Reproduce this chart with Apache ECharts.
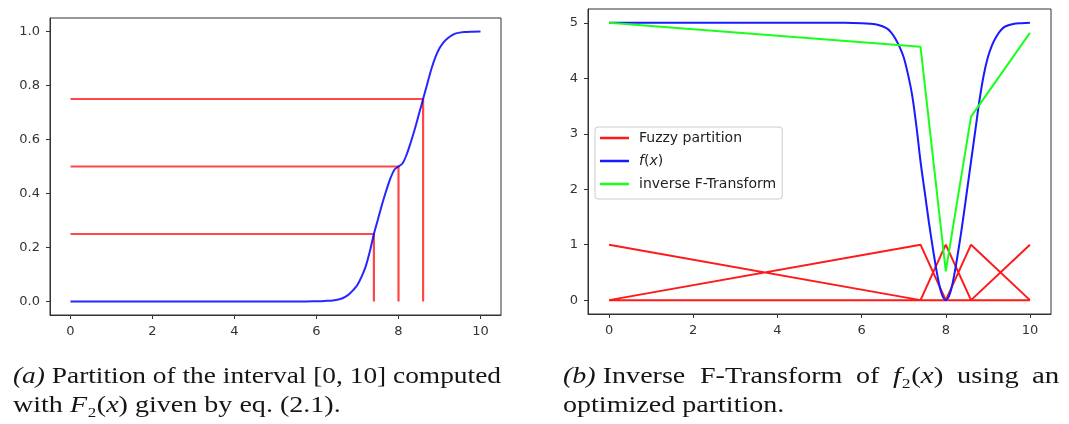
<!DOCTYPE html>
<html>
<head>
<meta charset="utf-8">
<script src="https://cdn.jsdelivr.net/npm/echarts@6/dist/echarts.min.js"></script>
<style>
  html, body { margin: 0; padding: 0; background: #fff; }
  #chart { width: 1069px; height: 424px; }
</style>
</head>
<body>
<div id="chart"></div>
<script>
// Partition nodes of [0, 10] and the F2 levels reached at the inner nodes
const nodes = [0, 7.4, 8.0, 8.6, 10];
const innerLevels = [0.25, 0.5, 0.75];

// F2(x): cumulative curve used to place the nodes
const xF2 = [0, 2, 4, 5, 5.6, 6.0, 6.2, 6.4, 6.6, 6.7, 6.8, 6.9, 7.0, 7.1, 7.2, 7.3, 7.4, 7.5, 7.6, 7.7, 7.8, 7.9, 8.0,
             8.1, 8.2, 8.3, 8.4, 8.5, 8.6, 8.7, 8.8, 8.9, 9.0, 9.1, 9.2, 9.3, 9.4, 9.6, 9.8, 10];
const yF2 = [0, 0, 0, 0, 0, 0.001, 0.002, 0.004, 0.01, 0.017, 0.028, 0.043, 0.062, 0.092, 0.13, 0.185, 0.25, 0.305, 0.36, 0.41, 0.455, 0.488, 0.5,
             0.512, 0.545, 0.59, 0.64, 0.695, 0.75, 0.805, 0.86, 0.905, 0.938, 0.96, 0.975, 0.986, 0.993, 0.998, 0.9995, 1.0];

// f2(x): signal with a dip at x = 8
const xf = [0, 2, 4, 5, 5.6, 6.0, 6.2, 6.4, 6.6, 6.7, 6.8, 6.9, 7.0, 7.1, 7.2, 7.3, 7.4, 7.5, 7.6, 7.7, 7.8, 7.9, 8.0,
            8.1, 8.2, 8.3, 8.4, 8.5, 8.6, 8.7, 8.8, 8.9, 9.0, 9.1, 9.2, 9.3, 9.4, 9.6, 9.8, 10];
const yf = [5, 5, 5, 5, 5, 4.995, 4.985, 4.96, 4.9, 4.83, 4.72, 4.57, 4.38, 4.08, 3.7, 3.15, 2.5, 1.95, 1.4, 0.9, 0.45, 0.12, 0,
            0.12, 0.45, 0.9, 1.4, 1.95, 2.5, 3.05, 3.6, 4.05, 4.38, 4.6, 4.75, 4.86, 4.93, 4.98, 4.995, 5];

// Inverse F-transform values at the nodes
const inverseF = [5.0, 4.57, 0.52, 3.31, 4.82];

const xTicks = [0, 2, 4, 6, 8, 10];
const yTicksA = [0, 0.2, 0.4, 0.6, 0.8, 1.0];
const yTicksB = [0, 1, 2, 3, 4, 5];

const zip = (xs, ys) => xs.map((x, i) => [x, ys[i]]);

// Left panel: level lines from the y-axis to the curve, then down to zero
const levelLines = [];
innerLevels.forEach((lv, i) => {
  const xn = nodes[i + 1];
  if (levelLines.length) levelLines.push('-');
  levelLines.push([0, lv], [xn, lv], [xn, 0]);
});

// Right panel: triangular basic functions, one per node
const partition = [];
nodes.forEach((_, k) => {
  if (partition.length) partition.push('-');
  nodes.forEach((xn, j) => partition.push([xn, j === k ? 1 : 0]));
});

const axisColor = '#333';
const tickFont = { fontFamily: 'DejaVu Sans', fontSize: 13, color: '#333' };

function xAxis(gridIndex) {
  return {
    type: 'value', gridIndex, min: -0.5, max: 10.5,
    axisLine: { show: true, onZero: false, lineStyle: { color: axisColor, width: 1 } },
    axisTick: { show: true, length: 4, lineStyle: { color: axisColor }, customValues: xTicks },
    axisLabel: Object.assign({ margin: 10, customValues: xTicks }, tickFont),
    splitLine: { show: false }
  };
}
function yAxis(gridIndex, min, max, ticks, digits) {
  return {
    type: 'value', gridIndex, min, max,
    axisLine: { show: true, onZero: false, lineStyle: { color: axisColor, width: 1 } },
    axisTick: { show: true, length: 4, lineStyle: { color: axisColor }, customValues: ticks },
    axisLabel: Object.assign({ margin: 10, customValues: ticks,
      formatter: v => v.toFixed(digits) }, tickFont),
    splitLine: { show: false }
  };
}

// Captions under each panel
const captionFont = '"Liberation Serif", "DejaVu Serif", serif';
const capSize = 23;
const capRich = {
  it: { fontStyle: 'italic', fontFamily: captionFont, fontSize: capSize, fill: '#151515' }
};
function caption(x, y, text, sx) {
  return {
    type: 'text', x, y, scaleX: sx, silent: true,
    style: { x: 0, y: 0, text, rich: capRich, font: capSize + 'px ' + captionFont,
             fill: '#151515', verticalAlign: 'top', align: 'left' }
  };
}
const capScale = 1.22;

const chart = echarts.init(document.getElementById('chart'), null, { renderer: 'canvas' });
chart.setOption({
  backgroundColor: '#fff',
  animation: false,
  grid: [
    { left: 50, top: 18, width: 451, height: 297, show: true, borderColor: axisColor, borderWidth: 1, backgroundColor: 'transparent' },
    { left: 588, top: 9, width: 463, height: 305, show: true, borderColor: axisColor, borderWidth: 1, backgroundColor: 'transparent' }
  ],
  xAxis: [xAxis(0), xAxis(1)],
  yAxis: [yAxis(0, -0.05, 1.05, yTicksA, 1), yAxis(1, -0.25, 5.25, yTicksB, 0)],
  legend: {
    data: ['Fuzzy partition', 'f(x)', 'inverse F-Transform'],
    orient: 'vertical', left: 595, top: 127,
    padding: [4, 6, 8, 5], itemGap: 9, itemWidth: 29, itemHeight: 2.5, icon: 'rect',
    backgroundColor: 'rgba(255,255,255,0.85)', borderColor: '#ccc', borderWidth: 1, borderRadius: 3,
    selectedMode: false,
    textStyle: {
      fontFamily: 'DejaVu Sans', fontSize: 14, lineHeight: 14, color: '#222', padding: [0, 0, 0, 5],
      rich: {
        i: { fontFamily: 'DejaVu Sans', fontSize: 14, lineHeight: 14, fontStyle: 'italic', color: '#222' },
        n: { fontFamily: 'DejaVu Sans', fontSize: 14, lineHeight: 14, color: '#222' }
      }
    },
    formatter: name => name === 'f(x)' ? '{i|f}{n|(}{i|x}{n|)}' : name
  },
  series: [
    {
      name: 'levels', type: 'line', xAxisIndex: 0, yAxisIndex: 0,
      data: levelLines, symbol: 'none', silent: true,
      lineStyle: { color: 'rgba(255,0,0,0.72)', width: 2.2 }
    },
    {
      name: 'F2', type: 'line', xAxisIndex: 0, yAxisIndex: 0,
      data: zip(xF2, yF2), symbol: 'none', smooth: 0.35, silent: true,
      lineStyle: { color: 'rgba(0,0,255,0.85)', width: 2 }
    },
    {
      name: 'Fuzzy partition', type: 'line', xAxisIndex: 1, yAxisIndex: 1,
      data: partition, symbol: 'none', silent: true, color: '#ff1a1a',
      lineStyle: { color: '#ff1a1a', width: 2 }
    },
    {
      name: 'f(x)', type: 'line', xAxisIndex: 1, yAxisIndex: 1,
      data: zip(xf, yf), symbol: 'none', smooth: 0.35, silent: true, color: '#1a1aff',
      lineStyle: { color: '#1a1aff', width: 2 }
    },
    {
      name: 'inverse F-Transform', type: 'line', xAxisIndex: 1, yAxisIndex: 1,
      data: zip(nodes, inverseF), symbol: 'none', silent: true, color: '#1aff1a',
      lineStyle: { color: '#1aff1a', width: 2 }
    }
  ],
  graphic: [
    caption(13, 365, '{it|(a)} Partition of the interval [0, 10] computed', 1.19),
    caption(13, 394, 'with {it|F}₂({it|x}) given by eq. (2.1).', capScale),
    caption(563, 365, '{it|(b)} Inverse', capScale),
    caption(700, 365, 'F-Transform', capScale),
    caption(856, 365, 'of', capScale),
    caption(893, 365, '{it|f}₂({it|x})', 1.26),
    caption(957, 365, 'using', 1.24),
    caption(1032, 365, 'an', 1.26),
    caption(563, 394, 'optimized partition.', capScale)
  ]
});
</script>
</body>
</html>
